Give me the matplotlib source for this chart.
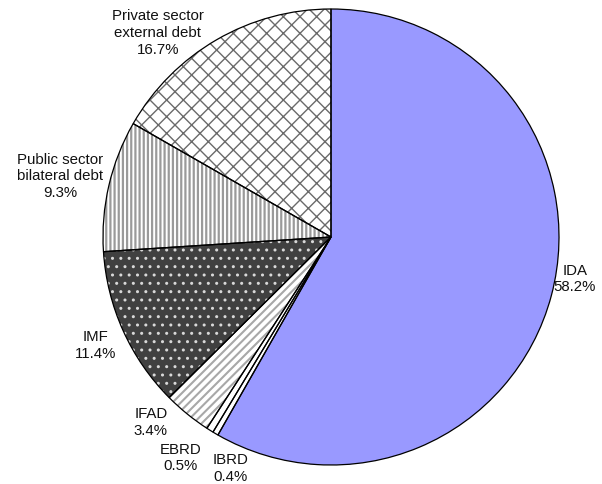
import matplotlib
matplotlib.use("Agg")
import matplotlib.pyplot as plt
import numpy as np

plt.rcParams['font.family'] = ['Liberation Sans', 'DejaVu Sans']
plt.rcParams['hatch.linewidth'] = 1.0

labels = ["IDA", "IBRD", "EBRD", "IFAD", "IMF",
          "Public sector\nbilateral debt", "Private sector\nexternal debt"]
shares = [58.2, 0.4, 0.5, 3.4, 11.4, 9.3, 16.7]

face_colors = ["#9999FF", "white", "white", "white", "#404040", "white", "white"]
hatches = [None, None, None, "////", "..", "||||", "xx"]
hatch_colors = ["black", "black", "black", "#A8A8A8", "#D8D8D8", "#9A9A9A", "#6A6A6A"]
hatch_widths = [1.0, 1.0, 1.0, 1.5, 1.0, 1.6, 1.0]

# label anchor (x, y) in pie units and horizontal alignment
label_pos = [(1.07, -0.18, "center"), (-0.44, -1.01, "center"), (-0.66, -0.965, "center"),
             (-0.79, -0.81, "center"), (-0.94, -0.47, "right"),
             (-1.0, 0.27, "right"), (-0.76, 0.90, "center")]

fig = plt.figure(figsize=(6.02, 4.85), dpi=100)
ax = fig.add_axes([0, 0, 1, 1])

wedges, _ = ax.pie(shares, startangle=90, counterclock=False,
                   colors=face_colors, radius=1.0,
                   wedgeprops=dict(linewidth=0))
for w, h, hc, hw in zip(wedges, hatches, hatch_colors, hatch_widths):
    if h:
        w.set_hatch(h)
        w.set_edgecolor(hc)
        w.set_linewidth(0)
        if hasattr(w, "set_hatch_linewidth"):
            w.set_hatch_linewidth(hw)

# black outlines drawn on top of the hatched wedges
outl, _ = ax.pie(shares, startangle=90, counterclock=False, radius=1.0,
                 wedgeprops=dict(fill=False, edgecolor="black", linewidth=0.9))

for lab, val, (x, y, ha) in zip(labels, shares, label_pos):
    ax.text(x, y, f"{lab}\n{val:.1f}%", ha=ha, va="center",
            fontsize=10.8, multialignment="center", color="#111111",
            linespacing=1.25)

# center at (331, 238) px with radius ~228 px
cx, cy, r = 331, 238, 228
W, H = 602, 485
ax.set_aspect("auto")
ax.set_xlim(-cx / r, (W - cx) / r)
ax.set_ylim(-(H - cy) / r, cy / r)
ax.axis("off")

fig.savefig("out.png", dpi=100)
